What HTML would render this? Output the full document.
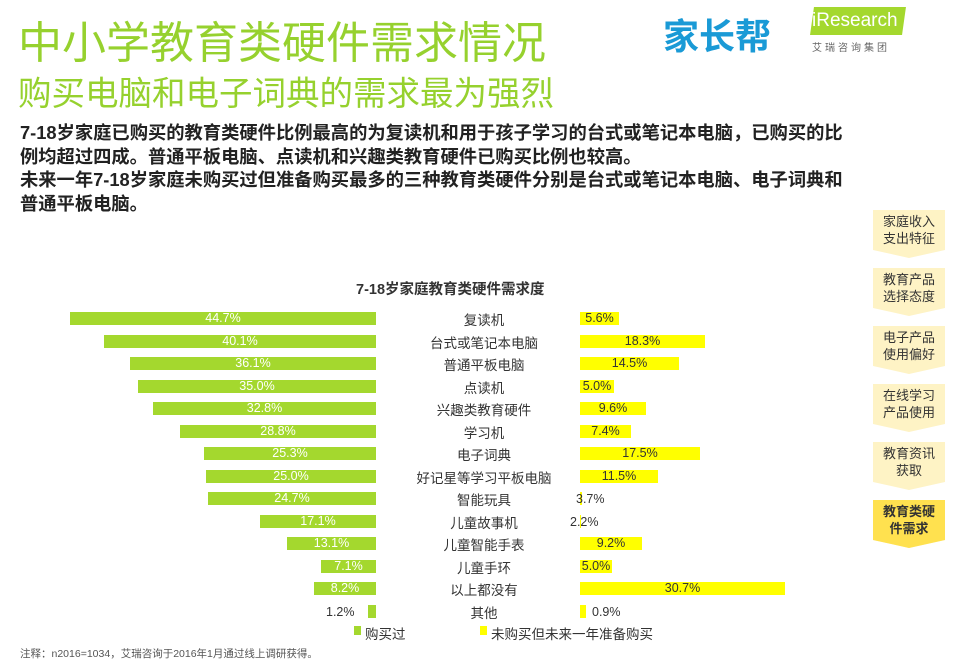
<!DOCTYPE html>
<html><head><meta charset="utf-8"><style>
body{margin:0;width:977px;height:667px;background:#fff;position:relative;overflow:hidden;font-family:"Liberation Sans","Noto Sans CJK SC",sans-serif}
.a{position:absolute;white-space:nowrap}
.g{position:absolute;height:13px;background:#a4d82e;color:#fff;font-size:12.5px;line-height:13px;text-align:center}
.y{position:absolute;height:13px;background:#ffff00;color:#333;font-size:12.5px;line-height:13px;text-align:center}
.l{position:absolute;width:200px;left:384px;text-align:center;font-size:13.5px;color:#333;line-height:13px}
.nav{position:absolute;left:873px;width:72px;height:40px;background:#fef3c5;color:#333;font-size:13px;line-height:17px;text-align:center;padding-top:3px;box-sizing:border-box}
.nav:after{content:"";position:absolute;left:0;top:40px;border-left:36px solid transparent;border-right:36px solid transparent;border-top:8px solid #fef3c5}
</style></head><body>
<div class="a" style="left:18px;top:7px;font-size:44px;color:#96d12e">中小学教育类硬件需求情况</div>
<div class="a" style="left:18px;top:66px;font-size:33.5px;color:#96d12e">购买电脑和电子词典的需求最为强烈</div>
<div class="a" style="left:663px;top:8px;font-size:36px;color:#1a9ad6;font-weight:bold">家长帮</div>
<div class="a" style="left:812px;top:7px;width:92px;height:28px;background:#a4d82e;transform:skewX(-8deg)"></div>
<div class="a" style="left:812px;top:10px;font-size:19px;color:#fff">iResearch</div>
<div class="a" style="left:812px;top:39px;font-size:10px;color:#666;letter-spacing:3px">艾瑞咨询集团</div>
<div class="a" style="left:20px;top:121px;font-size:18.3px;color:#222;line-height:23.5px;font-weight:bold">7-18岁家庭已购买的教育类硬件比例最高的为复读机和用于孩子学习的台式或笔记本电脑，已购买的比<br>例均超过四成。普通平板电脑、点读机和兴趣类教育硬件已购买比例也较高。<br>未来一年7-18岁家庭未购买过但准备购买最多的三种教育类硬件分别是台式或笔记本电脑、电子词典和<br>普通平板电脑。</div>
<div class="nav" style="top:210px">家庭收入<br>支出特征</div>
<div class="nav" style="top:268px">教育产品<br>选择态度</div>
<div class="nav" style="top:326px">电子产品<br>使用偏好</div>
<div class="nav" style="top:384px">在线学习<br>产品使用</div>
<div class="nav" style="top:442px">教育资讯<br>获取</div>
<div class="nav" style="top:500px;background:#ffe14f;font-weight:bold">教育类硬<br>件需求</div>
<div class="a" style="left:873px;top:540px;border-left:36px solid transparent;border-right:36px solid transparent;border-top:8px solid #ffe14f"></div>
<div class="a" style="left:356px;top:278px;font-size:14.5px;font-weight:bold;color:#333">7-18岁家庭教育类硬件需求度</div>
<div id="c"></div>
<div class="a" style="left:354px;top:626px;width:7px;height:9px;background:#a4d82e"></div>
<div class="a" style="left:365px;top:623px;font-size:13.5px;color:#333">购买过</div>
<div class="a" style="left:480px;top:626px;width:7px;height:9px;background:#ffff00"></div>
<div class="a" style="left:491px;top:623px;font-size:13.5px;color:#333">未购买但未来一年准备购买</div>
<div class="a" style="left:20px;top:646px;font-size:10.5px;color:#555">注释：n2016=1034，艾瑞咨询于2016年1月通过线上调研获得。</div>
<script>
var d=[["复读机",44.7,70,5.6,619],["台式或笔记本电脑",40.1,104,18.3,705],["普通平板电脑",36.1,130,14.5,679],["点读机",35.0,138,5.0,614],["兴趣类教育硬件",32.8,153,9.6,646],["学习机",28.8,180,7.4,631],["电子词典",25.3,204,17.5,700],["好记星等学习平板电脑",25.0,206,11.5,658],["智能玩具",24.7,208,3.7,582],["儿童故事机",17.1,260,2.2,581],["儿童智能手表",13.1,287,9.2,642],["儿童手环",7.1,321,5.0,612],["以上都没有",8.2,314,30.7,785],["其他",1.2,368,0.9,586]];
var h="";d.forEach(function(r,i){var t=312+i*22.5;
var gl=r[2],gw=376-gl,yw=r[4]-580;
if(r[1]<2){h+='<div class="g" style="left:'+gl+'px;top:'+t+'px;width:'+gw+'px"></div><div class="a" style="left:326px;top:'+t+'px;font-size:12.5px;color:#333">1.2%</div>';}
else h+='<div class="g" style="left:'+gl+'px;top:'+t+'px;width:'+gw+'px">'+r[1].toFixed(1)+'%</div>';
h+='<div class="l" style="top:'+(t+2)+'px">'+r[0]+'</div>';
if(r[3]<4){h+='<div class="y" style="left:580px;top:'+t+'px;width:'+yw+'px"></div><div class="a" style="left:'+(r[3]<1?592:(r[3]<3?570:576))+'px;top:'+t+'px;font-size:12.5px;color:#333">'+r[3].toFixed(1)+'%</div>';}
else h+='<div class="y" style="left:580px;top:'+t+'px;width:'+yw+'px">'+r[3].toFixed(1)+'%</div>';});
document.getElementById("c").innerHTML=h;
</script>
</body></html>
